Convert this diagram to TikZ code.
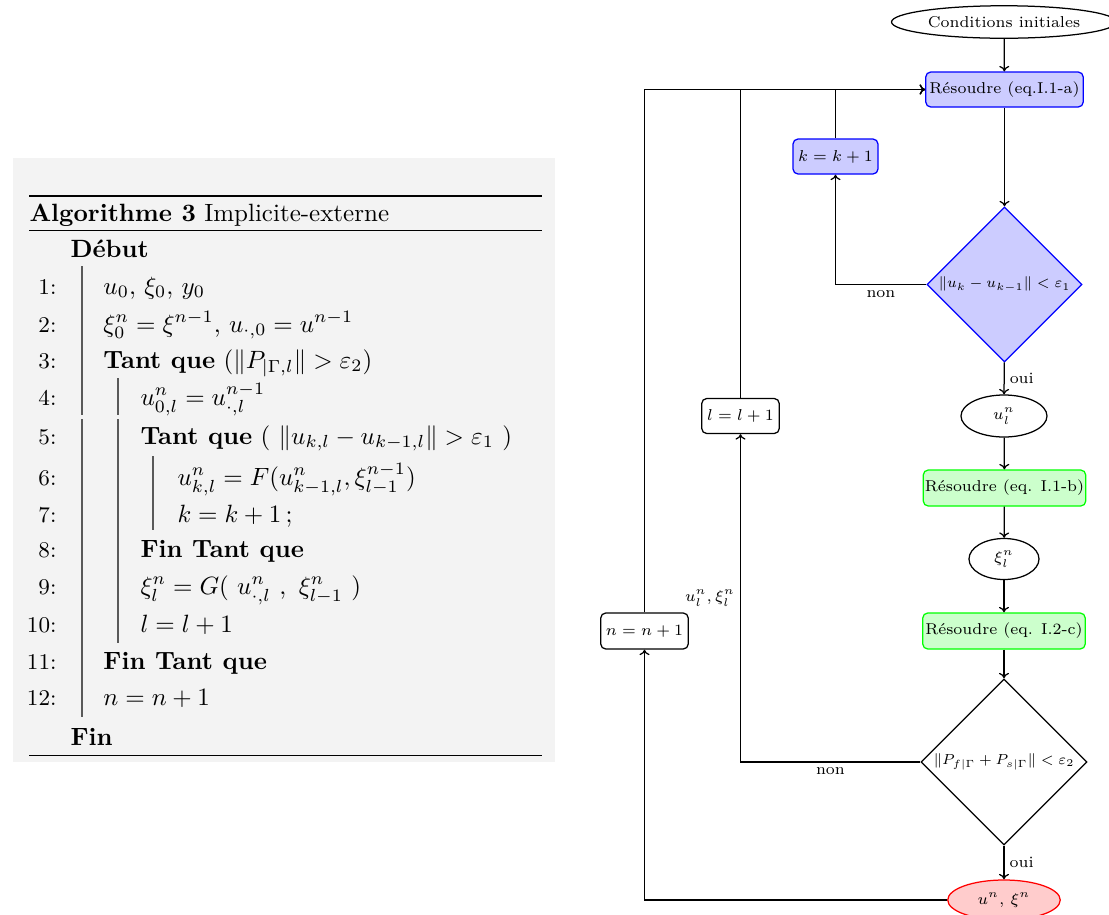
\documentclass[tikz,border=0pt]{standalone}
\usepackage{graphicx}
\usetikzlibrary{shapes.geometric,arrows.meta}
\usepackage{amsmath,amssymb}
\definecolor{algbg}{RGB}{243,243,243}
\newcommand{\fc}[1]{\scalebox{0.9}{\scriptsize #1}}
\newcommand{\fd}[1]{\scalebox{0.83}{\scriptsize #1}}
\newcommand{\algl}[4]{%
  \node[numst] (n#1) at (57,#3) {#1:};
  \node[txtst] (t#1) at (#2,#3) {#4};}
\begin{document}
\begin{tikzpicture}[x=0.4pt,y=-0.4pt,
  line/.style={line width=0.5pt,draw=black},
  arr/.style={line,-{To[length=2.2pt,width=4pt]}},
  lab/.style={inner sep=2pt},
  procb/.style={draw=blue,fill=blue!20,rounded corners=2pt,inner sep=0pt,line width=0.5pt},
  procg/.style={draw=green,fill=green!20,rounded corners=2pt,inner sep=0pt,line width=0.5pt},
  procw/.style={draw=black,fill=white,rounded corners=2pt,inner sep=0pt,line width=0.5pt},
  ell/.style={ellipse,draw=black,inner sep=0pt,line width=0.5pt},
  dia/.style={diamond,aspect=1,inner sep=0pt,line width=0.5pt},
  numst/.style={anchor=base east,inner sep=0pt,font=\small},
  txtst/.style={anchor=base west,inner sep=0pt},
  bar/.style={draw=black!65,line width=0.6pt}]
\useasboundingbox (0,0) rectangle (1109,915);
% ---------------- algorithm ----------------
\fill[algbg] (13,158) rectangle (555,762);
\draw[line width=0.8pt] (29,196) -- (542,196);
\draw[line width=0.4pt] (29,230) -- (542,230);
\draw[line width=0.4pt] (29,755) -- (542,755);
\node[txtst] (title) at (29,221) {\textbf{Algorithme 3} Implicite-externe};
\node[txtst] (debut) at (70,257) {\textbf{Début}};
\algl{1}{103}{294}{$u_0,\,\xi_0,\,y_0$}
\algl{2}{103}{332}{$\xi_0^n=\xi^{n-1}$, $u_{\cdot,0}=u^{n-1}$}
\algl{3}{103}{368}{\textbf{Tant que} $(\|P_{|\Gamma,l}\|>\varepsilon_2)$}
\algl{4}{140}{405}{$u_{0,l}^n=u_{\cdot,l}^{n-1}$}
\algl{5}{140}{444}{\textbf{Tant que} $(\ \|u_{k,l}-u_{k-1,l}\|>\varepsilon_1\ )$}
\algl{6}{177}{485}{$u_{k,l}^n=F(u_{k-1,l}^n,\xi_{l-1}^{n-1})$}
\algl{7}{177}{522}{$k=k+1\,;$}
\algl{8}{140}{557}{\textbf{Fin Tant que}}
\algl{9}{140}{594}{$\xi_l^n=G(\ u_{\cdot,l}^n\ ,\ \xi_{l-1}^n\ )$}
\algl{10}{140}{632}{$l=l+1$}
\algl{11}{103}{669}{\textbf{Fin Tant que}}
\algl{12}{103}{705}{$n=n+1$}
\node[txtst] (fin) at (70,745) {\textbf{Fin}};
\draw[bar] (82,266) -- (82,415);
\draw[bar] (82,419) -- (82,717);
\draw[bar] (118,378) -- (118,415);
\draw[bar] (118,419) -- (118,643);
\draw[bar] (153,456) -- (153,530);
% ---------------- flowchart ----------------
\node[ell,minimum width=90pt,minimum height=13pt] (ci) at (1004,22) {\fc{Conditions initiales}};
\node[procb,minimum width=63pt,minimum height=14pt] (ra) at (1004.5,89.5) {\fc{Résoudre (eq.I.1-a)}};
\node[procb,minimum width=34pt,minimum height=14pt] (kk) at (835.5,156.5) {\fc{$k=k+1$}};
\node[dia,draw=blue,fill=blue!20,minimum size=62pt] (d1) at (1004.5,284.5) {\fd{$\|u_k-u_{k-1}\|<\varepsilon_1$}};
\node[ell,minimum width=34.4pt,minimum height=16.8pt] (ul) at (1004,416) {\fc{$u_l^n$}};
\node[procg,minimum width=65pt,minimum height=14.4pt] (rb) at (1004.5,488) {\fc{Résoudre (eq. I.1-b)}};
\node[ell,minimum width=28pt,minimum height=16.4pt] (xl) at (1004,559) {\fc{$\xi_l^n$}};
\node[procg,minimum width=65pt,minimum height=14.4pt] (rc) at (1004,631) {\fc{Résoudre (eq. I.2-c)}};
\node[dia,draw=black,fill=white,minimum size=66.4pt] (d2) at (1004,762) {\fd{$\|P_{f|\Gamma}+P_{s|\Gamma}\|<\varepsilon_2$}};
\node[ell,draw=red,fill=red!20,minimum width=45pt,minimum height=16pt] (un) at (1004,900) {\fc{$u^n,\,\xi^n$}};
\node[procw,minimum width=31pt,minimum height=14pt] (ll) at (740.5,416) {\fc{$l=l+1$}};
\node[procw,minimum width=35pt,minimum height=14.4pt] (nn) at (644.5,631) {\fc{$n=n+1$}};
\draw[arr] (ci) -- (ra);
\draw[arr] (ra) -- (d1);
\draw[arr] (d1.west) -| node[lab,pos=0.25,below] (non1) {\fc{non}} (kk);
\draw[arr] (kk.north) |- (ra.west);
\draw[arr] (d1) -- node[lab,right] (oui1) {\fc{oui}} (ul);
\draw[arr] (ul) -- (rb);
\draw[arr] (rb) -- (xl);
\draw[arr] (xl) -- (rc);
\draw[arr] (rc) -- (d2);
\draw[arr] (d2.west) -| node[lab,pos=0.25,below] (non2) {\fc{non}} node[lab,pos=0.75,left] (ulx) {\fc{$u_l^n,\xi_l^n$}} (ll);
\draw[arr] (ll.north) |- (ra.west);
\draw[arr] (d2) -- node[lab,right] (oui2) {\fc{oui}} (un);
\draw[arr] (un.west) -| (nn);
\draw[arr] (nn.north) |- (ra.west);
\end{tikzpicture}
\end{document}
